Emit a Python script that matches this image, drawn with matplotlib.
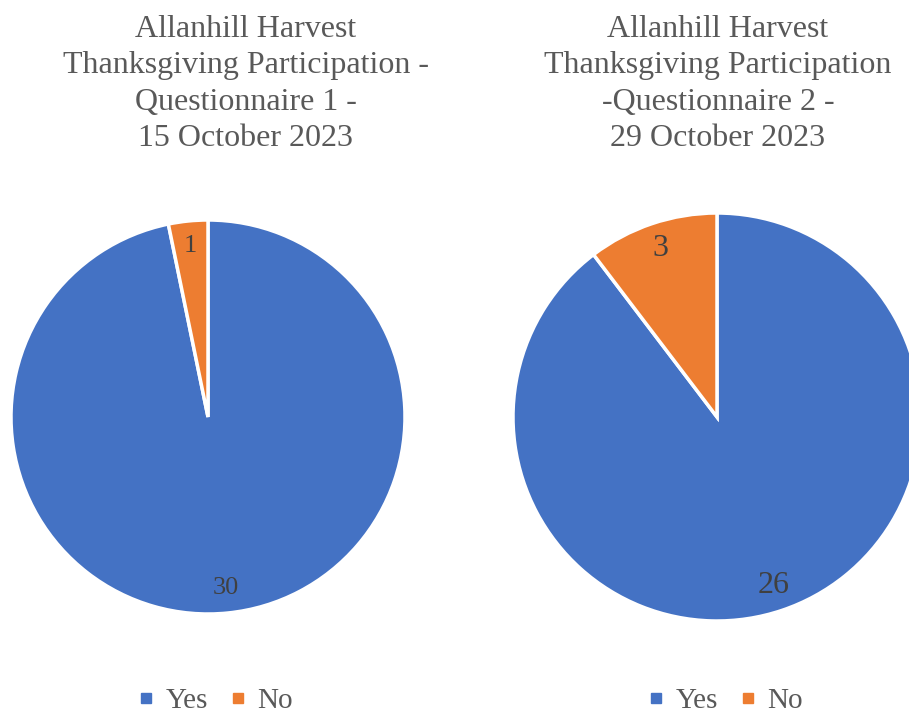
import matplotlib
matplotlib.use("Agg")
import matplotlib.pyplot as plt
from matplotlib.lines import Line2D

# data
categories = ["Yes", "No"]
q1_counts = [30, 1]
q2_counts = [26, 3]
q1_title = "Allanhill Harvest\nThanksgiving Participation -\nQuestionnaire 1 -\n15 October 2023"
q2_title = "Allanhill Harvest\nThanksgiving Participation\n-Questionnaire 2 -\n29 October 2023"

colors = ["#4472C4", "#ED7D31"]
text_grey = "#595959"
label_grey = "#404040"

plt.rcParams["font.family"] = ["Liberation Serif", "DejaVu Serif"]

W, H = 909, 715
fig = plt.figure(figsize=(W / 100, H / 100), dpi=100)
ax = fig.add_axes([0, 0, 1, 1])


def draw_pie(counts, center, radius, label_size):
    total = sum(counts)
    wedges, _, autotexts = ax.pie(
        counts, colors=colors, startangle=90, counterclock=False,
        center=center, radius=radius, frame=True,
        autopct=lambda p: "%d" % round(p * total / 100.0),
        pctdistance=0.87,
        wedgeprops=dict(edgecolor="white", linewidth=2.5),
        textprops=dict(color=label_grey, fontsize=label_size),
    )
    return wedges


# pies placed in pixel coordinates (y up)
draw_pie(q1_counts, (208, H - 417), 197, 19)
draw_pie(q2_counts, (717, H - 417), 204, 23)

ax.set_xlim(0, W)
ax.set_ylim(0, H)
ax.set_aspect("equal")
ax.axis("off")

# titles
fig.text(246 / W, 1 - 84 / H, q1_title, ha="center", va="center",
         fontsize=23, color=text_grey, linespacing=1.33)
fig.text(718 / W, 1 - 84 / H, q2_title, ha="center", va="center",
         fontsize=23, color=text_grey, linespacing=1.33)

# legends
handles = [Line2D([], [], marker="s", linestyle="none", markersize=7,
                  markerfacecolor=c, markeredgecolor=c) for c in colors]
for cx in (216, 726):
    fig.legend(handles, categories, loc="center",
               bbox_to_anchor=(cx / W, 1 - 701 / H), ncol=2, frameon=False,
               fontsize=21, labelcolor=text_grey, handlelength=0.5,
               handletextpad=0.4, columnspacing=0.8, borderpad=0.1)

fig.savefig("out.png", dpi=100)
